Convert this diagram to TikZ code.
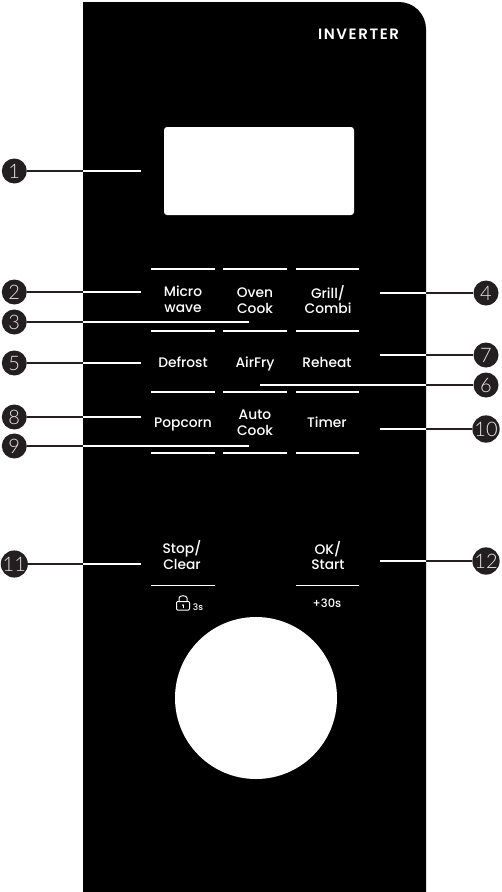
\documentclass[tikz,border=0pt]{standalone}
\usepackage{fontspec}
\setmainfont{Poppins}[UprightFont=* Medium,BoldFont=* SemiBold]
\newfontfamily\digitfont{Lato Light}
\definecolor{bubble}{HTML}{231F20}
\definecolor{digit}{HTML}{E6E6E6}
\tikzset{
  x=1pt,y=-1pt,
  keylabel/.style={text=white,font=\fontsize{13.8}{15.8}\selectfont,align=center,inner sep=0pt,anchor=base},
  callout/.style={circle,fill=bubble,text=digit,minimum size=25pt,inner sep=0pt,font=\digitfont\fontsize{20}{20}\selectfont},
  keyline/.style={draw=white,line width=1.3pt},
  outleader/.style={draw=bubble,line width=1.5pt},
  inleader/.style={draw=white,line width=1.5pt}
}
\newcommand{\leftlead}[4]{% name, digit, y, end x
  \node[callout] (c#1) at (14.3,#3) {#2};
  \coordinate (e#1) at (83,#3);
  \coordinate (t#1) at (#4,#3);
  \draw[outleader] (c#1) -- (e#1);
  \draw[inleader] (e#1) -- (t#1);
}
\newcommand{\rightlead}[4]{%
  \node[callout] (c#1) at (486,#3) {#2};
  \coordinate (e#1) at (426,#3);
  \coordinate (t#1) at (#4,#3);
  \draw[outleader] (c#1) -- (e#1);
  \draw[inleader] (e#1) -- (t#1);
}
\newcommand{\keyrule}[4]{% name, x1, x2, y
  \coordinate (#1a) at (#2,#4);
  \coordinate (#1b) at (#3,#4);
  \draw[keyline] (#1a) -- (#1b);
}
\begin{document}
\begin{tikzpicture}
\useasboundingbox (0,0) rectangle (501,892);
\fill[white] (0,0) rectangle (501,892);
% panel
\fill[black] (83,2) [rounded corners=27pt] -- (426,2) [sharp corners] -- (426,892) -- (83,892) -- cycle;
% display
\fill[white,rounded corners=3pt] (164,127) rectangle (354,215);
% dial
\fill[white] (256,698) circle[radius=81];
% brand
\node[text=white,inner sep=0pt,font=\fontsize{15}{15}\selectfont\bfseries] (brand) at (358.5,34) {I\kern1.6pt N\kern1.6pt V\kern1.6pt E\kern1.6pt R\kern1.6pt T\kern1.6pt E\kern1.6pt R};
% key rules
\foreach \yy/\nm in {269/a,331/b,392/c,453/d}{
  \keyrule{r1\nm}{151}{215}{\yy}
  \keyrule{r2\nm}{223}{287}{\yy}
  \keyrule{r3\nm}{296}{359}{\yy}
}
\keyrule{rs}{151}{215}{585.5}
\keyrule{ro}{296}{359}{585.5}
% key labels
\node[keylabel,anchor=center] (micro) at (183,299.5) {Micro\\wave};
\node[keylabel,anchor=center] (oven) at (255,300.5) {Oven\\Cook};
\node[keylabel,anchor=center] (grill) at (328,299.5) {Grill/\\Combi};
\node[keylabel] (defrost) at (183,367) {Defrost};
\node[keylabel] (airfry) at (255,367) {AirFry};
\node[keylabel] (reheat) at (327,367) {Reheat};
\node[keylabel] (popcorn) at (183,427) {Popcorn};
\node[keylabel,anchor=center] (auto) at (255,423) {Auto\\Cook};
\node[keylabel] (timer) at (327,427) {Timer};
\node[keylabel,anchor=center] (stop) at (182,555) {Stop/\\Clear};
\node[keylabel,anchor=center] (ok) at (328,555.5) {OK/\\Start};
\node[keylabel,font=\fontsize{11.5}{12}\selectfont] (plus) at (327,607) {+30s};
\node[keylabel,font=\fontsize{9}{10}\selectfont] (three) at (198,610) {3s};
% lock icon
\draw[white,line width=1pt,rounded corners=1pt] (176.5,601.5) rectangle (189.5,610);
\draw[white,line width=1pt] (179,601.5) -- (179,598) .. controls (179,595) and (187,595) .. (187,598) -- (187,601.5);
\fill[white] (183,605) circle[radius=1];
\draw[white,line width=0.6pt] (183,605) -- (183,608);
% leaders
\leftlead{1}{1}{171}{141}
\leftlead{2}{2}{292}{141}
\leftlead{3}{3}{322}{249}
\leftlead{5}{5}{363}{141}
\leftlead{8}{8}{417}{141}
\leftlead{9}{9}{446}{249}
\leftlead{11}{11}{564}{141}
\rightlead{4}{4}{293}{380}
\rightlead{7}{7}{355}{380}
\rightlead{6}{6}{385}{260}
\rightlead{10}{10}{429}{380}
\rightlead{12}{12}{561}{380}
\end{tikzpicture}
\end{document}
